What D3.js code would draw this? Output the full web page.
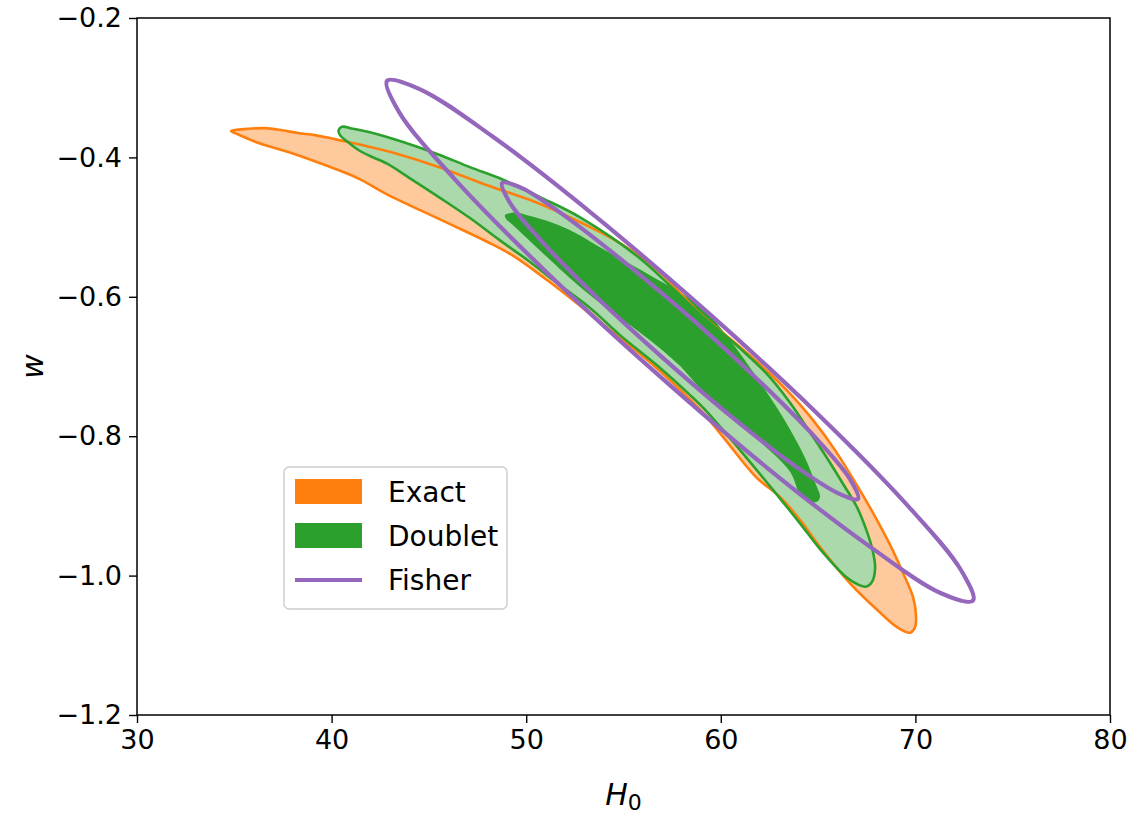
<!DOCTYPE html>
<html>
<head>
<meta charset="utf-8">
<script src="https://cdn.jsdelivr.net/npm/d3@7"></script>
<style>
  body { margin: 0; background: #fff; }
  svg text { font-family: "DejaVu Sans", sans-serif; }
</style>
</head>
<body>
<div id="chart"></div>
<script>
// contour outlines, as [H0, w] pairs
var exactOuter = [
  [34.83,-0.362],[35.70,-0.359],[36.58,-0.358],[37.45,-0.361],[38.27,-0.365],[39.15,-0.368],
  [40.02,-0.373],[40.84,-0.378],[41.97,-0.385],[43.26,-0.394],[45.42,-0.413],[47.99,-0.440],
  [50.56,-0.465],[52.77,-0.493],[54.82,-0.523],[56.88,-0.565],[58.93,-0.624],[60.99,-0.672],
  [62.53,-0.710],[63.56,-0.739],[64.74,-0.777],[65.87,-0.820],[66.90,-0.866],[67.82,-0.910],
  [68.70,-0.956],[69.36,-0.996],[69.88,-1.031],[70.03,-1.057],[69.98,-1.074],[69.72,-1.082],
  [69.06,-1.074],[68.03,-1.049],[66.64,-1.011],[65.10,-0.959],[64.07,-0.920],[63.04,-0.887],
  [61.86,-0.860],[60.11,-0.801],[58.93,-0.762],[56.36,-0.694],[53.79,-0.636],[52.41,-0.605],
  [51.07,-0.576],[49.32,-0.541],[47.99,-0.521],[45.57,-0.489],[42.85,-0.453],[41.36,-0.430],
  [39.66,-0.411],[37.97,-0.394],[36.22,-0.379],[35.04,-0.365]
];

var doubletOuter = [
  [40.36,-0.361],[40.53,-0.356],[41.10,-0.359],[41.97,-0.364],[43.67,-0.378],[45.42,-0.395],
  [47.11,-0.414],[48.81,-0.432],[50.71,-0.457],[52.77,-0.486],[55.85,-0.545],[58.93,-0.625],
  [60.99,-0.674],[62.38,-0.711],[63.56,-0.752],[64.43,-0.788],[65.36,-0.827],[66.23,-0.866],
  [67.00,-0.902],[67.51,-0.937],[67.82,-0.966],[67.93,-0.989],[67.77,-1.009],[67.46,-1.016],
  [67.00,-1.012],[66.44,-1.002],[65.10,-0.962],[64.07,-0.925],[62.68,-0.877],[60.99,-0.820],
  [59.29,-0.765],[58.42,-0.741],[56.88,-0.702],[54.82,-0.655],[53.28,-0.616],[51.38,-0.576],
  [50.20,-0.550],[48.65,-0.519],[47.11,-0.487],[45.57,-0.458],[44.03,-0.430],[42.85,-0.409],
  [41.97,-0.398],[41.36,-0.389],[40.84,-0.378],[40.43,-0.368]
];

var doubletInner = [
  [48.91,-0.483],[49.43,-0.479],[50.20,-0.484],[51.07,-0.491],[52.51,-0.508],[53.79,-0.529],
  [56.36,-0.569],[58.93,-0.613],[60.47,-0.662],[61.76,-0.712],[62.79,-0.755],[63.71,-0.798],
  [64.38,-0.834],[64.84,-0.866],[65.10,-0.887],[64.95,-0.894],[64.59,-0.894],[64.07,-0.883],
  [63.56,-0.851],[62.02,-0.808],[60.47,-0.768],[58.93,-0.731],[57.90,-0.699],[56.21,-0.659],
  [54.46,-0.623],[52.77,-0.586],[51.07,-0.543],[50.04,-0.516],[49.27,-0.496],[48.96,-0.488]
];

var fisherOuter = [
  [72.96,-1.036],[71.29,-1.025],[67.59,-0.957],[62.41,-0.846],[56.54,-0.706],[50.87,-0.560],
  [46.29,-0.430],[43.47,-0.335],[42.85,-0.290],[44.52,-0.302],[48.22,-0.369],[53.40,-0.481],
  [59.27,-0.621],[64.94,-0.767],[69.52,-0.897],[72.34,-0.992]
];

var fisherInner = [
  [67.05,-0.890],[66.04,-0.882],[63.78,-0.842],[60.64,-0.774],[57.08,-0.689],[53.64,-0.601],
  [50.85,-0.522],[49.14,-0.464],[48.76,-0.437],[49.78,-0.444],[52.03,-0.485],[55.17,-0.553],
  [58.73,-0.637],[62.17,-0.726],[64.96,-0.805],[66.67,-0.863]
];

var xTicks = [30, 40, 50, 60, 70, 80];
var yTicks = [-0.2, -0.4, -0.6, -0.8, -1.0, -1.2];
var legendItems = ["Exact", "Doublet", "Fisher"];

var width = 1130, height = 816;
var margin = { top: 18, right: 20, bottom: 101, left: 137 };

var svg = d3.select("#chart").append("svg")
  .attr("width", width)
  .attr("height", height);

var x = d3.scaleLinear().domain([30, 80]).range([margin.left, width - margin.right]);
var y = d3.scaleLinear().domain([-1.2, -0.2]).range([height - margin.bottom, margin.top]);

var line = d3.line()
  .x(function(d) { return x(d[0]); })
  .y(function(d) { return y(d[1]); })
  .curve(d3.curveCatmullRomClosed.alpha(0.5));

var plot = svg.append("g");

// fills first, then outlines on top
plot.append("path").attr("d", line(exactOuter)).attr("fill", "#ffc99e").attr("stroke", "none");
plot.append("path").attr("d", line(doubletOuter)).attr("fill", "#abd9ab").attr("stroke", "none");
plot.append("path").attr("d", line(doubletInner)).attr("fill", "#2ca02c").attr("stroke", "none");
plot.append("path").attr("d", line(exactOuter)).attr("fill", "none")
  .attr("stroke", "#ff7f0e").attr("stroke-width", 2.6);
plot.append("path").attr("d", line(doubletOuter)).attr("fill", "none")
  .attr("stroke", "#2ca02c").attr("stroke-width", 2.6);
[fisherOuter, fisherInner].forEach(function(pts) {
  plot.append("path").attr("d", line(pts)).attr("fill", "none")
    .attr("stroke", "#9467bd").attr("stroke-width", 4.2);
});

// axes
var xAxis = svg.append("g")
  .attr("transform", "translate(0," + (height - margin.bottom) + ")")
  .call(d3.axisBottom(x).tickValues(xTicks).tickSize(8).tickPadding(7).tickFormat(d3.format("d")));
var yAxis = svg.append("g")
  .attr("transform", "translate(" + margin.left + ",0)")
  .call(d3.axisLeft(y).tickValues(yTicks).tickSize(8).tickPadding(7).tickFormat(d3.format(".1f")));

[xAxis, yAxis].forEach(function(a) {
  a.select(".domain").remove();
  a.selectAll(".tick line").attr("stroke", "#000").attr("stroke-width", 1.4);
  a.selectAll(".tick text").attr("fill", "#000").style("font-size", "27px");
});

svg.append("rect")
  .attr("x", margin.left).attr("y", margin.top)
  .attr("width", width - margin.left - margin.right)
  .attr("height", height - margin.top - margin.bottom)
  .attr("fill", "none").attr("stroke", "#000").attr("stroke-width", 1.5);

// axis labels
var xl = svg.append("text")
  .attr("x", (margin.left + width - margin.right) / 2)
  .attr("y", 805)
  .attr("text-anchor", "middle")
  .style("font-size", "30px");
xl.append("tspan").style("font-style", "italic").text("H");
xl.append("tspan").attr("dy", 5).style("font-size", "22px").text("0");

svg.append("text")
  .attr("transform", "translate(43," + (margin.top + height - margin.bottom) / 2 + ") rotate(-90)")
  .attr("text-anchor", "middle")
  .style("font-size", "30px")
  .style("font-style", "italic")
  .text("w");

// legend
var lg = svg.append("g").attr("transform", "translate(284,467)");
lg.append("rect")
  .attr("width", 223).attr("height", 142).attr("rx", 5)
  .attr("fill", "#fff").attr("fill-opacity", 0.8)
  .attr("stroke", "#cccccc").attr("stroke-width", 1.4);

var swatch = { Exact: "#ff7f0e", Doublet: "#2ca02c", Fisher: "#9467bd" };
legendItems.forEach(function(name, i) {
  var cy = 24 + i * 44;
  if (name === "Fisher") {
    lg.append("line").attr("x1", 11).attr("x2", 78).attr("y1", cy + 1).attr("y2", cy + 1)
      .attr("stroke", swatch[name]).attr("stroke-width", 4);
  } else {
    lg.append("rect").attr("x", 11).attr("y", cy - 12).attr("width", 67).attr("height", 25)
      .attr("fill", swatch[name]);
  }
  lg.append("text").attr("x", 104).attr("y", cy + 11)
    .style("font-size", "28px").text(name);
});
</script>
</body>
</html>
